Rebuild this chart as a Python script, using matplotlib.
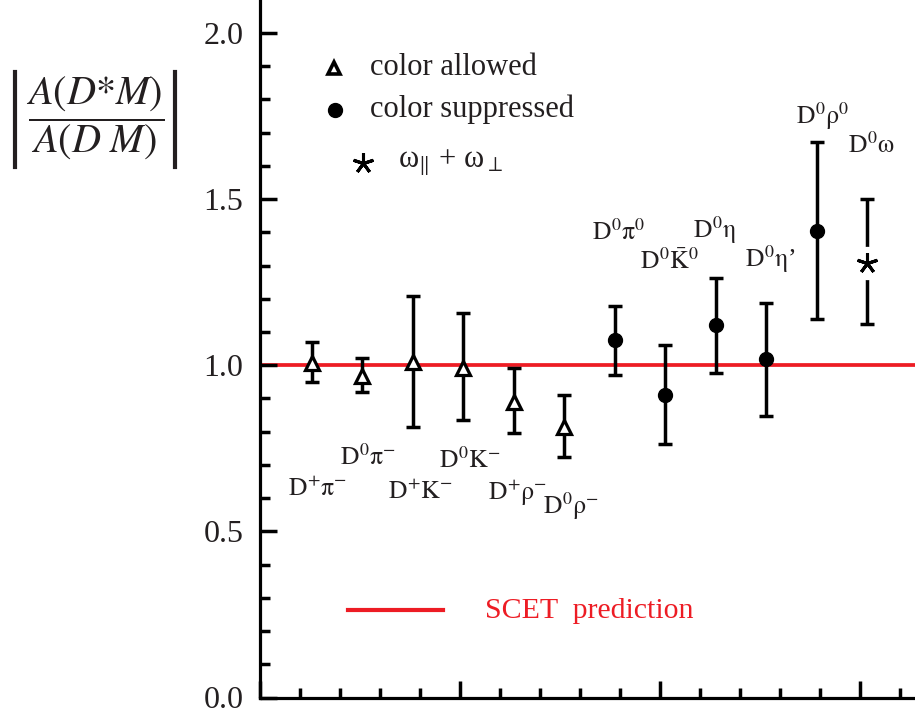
import numpy as np
import matplotlib
matplotlib.use('Agg')
import matplotlib.pyplot as plt
from matplotlib.lines import Line2D
from matplotlib.ticker import MultipleLocator, NullFormatter, FormatStrFormatter

plt.rcParams['font.family'] = ['Liberation Serif', 'DejaVu Serif']
plt.rcParams['mathtext.fontset'] = 'stix'

# ---------------- data ----------------
allowed_labels = [r'$\mathrm{D^{+}\pi^{-}}$', r'$\mathrm{D^{0}\pi^{-}}$', r'$\mathrm{D^{+}K^{-}}$',
                  r'$\mathrm{D^{0}K^{-}}$', r'$\mathrm{D^{+}\rho^{-}}$', r'$\mathrm{D^{0}\rho^{-}}$']
allowed_val = [1.008, 0.968, 1.010, 0.993, 0.889, 0.814]
allowed_hi = [1.071, 1.023, 1.209, 1.156, 0.991, 0.910]
allowed_lo = [0.949, 0.920, 0.813, 0.835, 0.797, 0.723]

suppressed_labels = [r'$\mathrm{D^{0}\pi^{0}}$', r'$\mathrm{D^{0}\bar{K}^{0}}$', r'$\mathrm{D^{0}\eta}$',
                     r'$\mathrm{D^{0}\eta}$’', r'$\mathrm{D^{0}\rho^{0}}$']
suppressed_val = [1.076, 0.910, 1.121, 1.018, 1.404]
suppressed_hi = [1.179, 1.061, 1.264, 1.188, 1.671]
suppressed_lo = [0.970, 0.762, 0.978, 0.848, 1.138]

omega_labels = [r'$\mathrm{D^{0}\omega}$']
omega_val = [1.307]
omega_hi = [1.499]
omega_lo = [1.124]

scet_prediction = 1.0

legend_texts = ['color allowed', 'color suppressed', r'ω$_{\Vert}$ + ω$_{\perp}$']
ytick_values = [0.0, 0.5, 1.0, 1.5, 2.0]

# ---------------- layout ----------------
W, H = 915, 713
fig = plt.figure(figsize=(W / 100, H / 100), dpi=100)
ax = fig.add_axes([260 / W, 15.5 / H, (W - 260) / W, 697.5 / H])

RED = '#ed1c24'
TXT = '#231f20'
LW = 2.5

n_all = len(allowed_val) + len(suppressed_val) + len(omega_val)
xpos = 1.29 + 1.2625 * np.arange(n_all)
x_all = xpos[:len(allowed_val)]
x_sup = xpos[len(allowed_val):len(allowed_val) + len(suppressed_val)]
x_om = xpos[len(allowed_val) + len(suppressed_val):]

def err(v, lo, hi):
    v, lo, hi = map(np.asarray, (v, lo, hi))
    return np.vstack([v - lo, hi - v])

ax.axhline(scet_prediction, color=RED, lw=2.7, zorder=1)

eb_kw = dict(fmt='none', ecolor='black', elinewidth=LW, capsize=5, capthick=LW, zorder=2)
ax.errorbar(x_all, allowed_val, yerr=err(allowed_val, allowed_lo, allowed_hi), **eb_kw)
ax.errorbar(x_sup, suppressed_val, yerr=err(suppressed_val, suppressed_lo, suppressed_hi), **eb_kw)
ax.errorbar(x_om, omega_val, yerr=err(omega_val, omega_lo, omega_hi), **eb_kw)

ax.plot(x_all, allowed_val, ls='none', marker='^', ms=9.5, mfc='white', mec='black', mew=2.3, zorder=3)
ax.plot(x_sup, suppressed_val, ls='none', marker='o', ms=10, mfc='black', mec='black', zorder=3)
ax.plot(x_om, omega_val, ls='none', marker='o', ms=24, mfc='white', mec='none', zorder=3)
ax.plot(x_om, omega_val, ls='none', marker=(5, 2, 0), ms=15, mfc='black', mec='black', mew=2.2, zorder=4)

# mode labels
lab_fs = 18.5
allowed_pos = [(0.70, 0.607), (2.00, 0.700), (3.20, 0.597), (4.475, 0.692), (5.70, 0.594), (7.075, 0.554)]
for (tx, ty), s in zip(allowed_pos, allowed_labels):
    ax.text(tx, ty, s, fontsize=lab_fs, ha='left', va='baseline', color=TXT)
supp_pos = [(8.29, 1.377), (9.50, 1.290), (10.83, 1.382), (12.125, 1.297), (13.40, 1.726)]
for (tx, ty), s in zip(supp_pos, suppressed_labels):
    ax.text(tx, ty, s, fontsize=lab_fs, ha='left', va='baseline', color=TXT)
ax.text(14.71, 1.640, omega_labels[0], fontsize=lab_fs, ha='left', va='baseline', color=TXT)

# legend (drawn by hand)
ax.plot([1.85], [1.895], ls='none', marker='^', ms=9, mfc='white', mec='black', mew=2.6)
ax.plot([1.875], [1.768], ls='none', marker='o', ms=10, mfc='black', mec='black')
ax.plot([2.575], [1.609], ls='none', marker=(5, 2, 0), ms=15, mfc='black', mec='black', mew=2.2)
ax.text(2.75, 1.873, legend_texts[0], fontsize=22, ha='left', va='baseline', color=TXT)
ax.text(2.75, 1.746, legend_texts[1], fontsize=22, ha='left', va='baseline', color=TXT)
ax.text(3.46, 1.598, legend_texts[2], fontsize=22, ha='left', va='baseline', color=TXT)

ax.plot([2.2, 4.575], [0.263, 0.263], color=RED, lw=3)
ax.text(5.625, 0.238, 'SCET  prediction', fontsize=21.5, color=RED, ha='left', va='baseline')

# axes styling
ax.set_xlim(0, (W - 260) / 40)
ax.set_ylim(0, 697.5 / 332.25)
for side in ['top', 'right']:
    ax.spines[side].set_visible(False)
for side in ['left', 'bottom']:
    ax.spines[side].set_linewidth(2.3)

ax.xaxis.set_major_locator(MultipleLocator(5))
ax.xaxis.set_minor_locator(MultipleLocator(1))
ax.xaxis.set_major_formatter(NullFormatter())
ax.set_yticks(ytick_values)
ax.yaxis.set_minor_locator(MultipleLocator(0.1))
ax.yaxis.set_major_formatter(FormatStrFormatter('%.1f'))
ax.tick_params(axis='both', which='major', direction='in', length=12, width=2.5, color='black')
ax.tick_params(axis='both', which='minor', direction='in', length=7.5, width=2.5, color='black')
ax.tick_params(axis='y', which='major', pad=12, labelsize=23, labelcolor=TXT)
ax.tick_params(axis='x', which='both', labelbottom=False)

# y label: fraction with absolute-value bars
fig.text(95 / W, 1 - 118 / H, r'$\dfrac{A(D{*}M)}{A(D\ M)}$', fontsize=29,
         ha='center', va='center', color=TXT)
for bx in (15, 175):
    fig.add_artist(Line2D([bx / W, bx / W], [1 - 72 / H, 1 - 167 / H], lw=3, color=TXT))

fig.savefig('out.png', dpi=100)
